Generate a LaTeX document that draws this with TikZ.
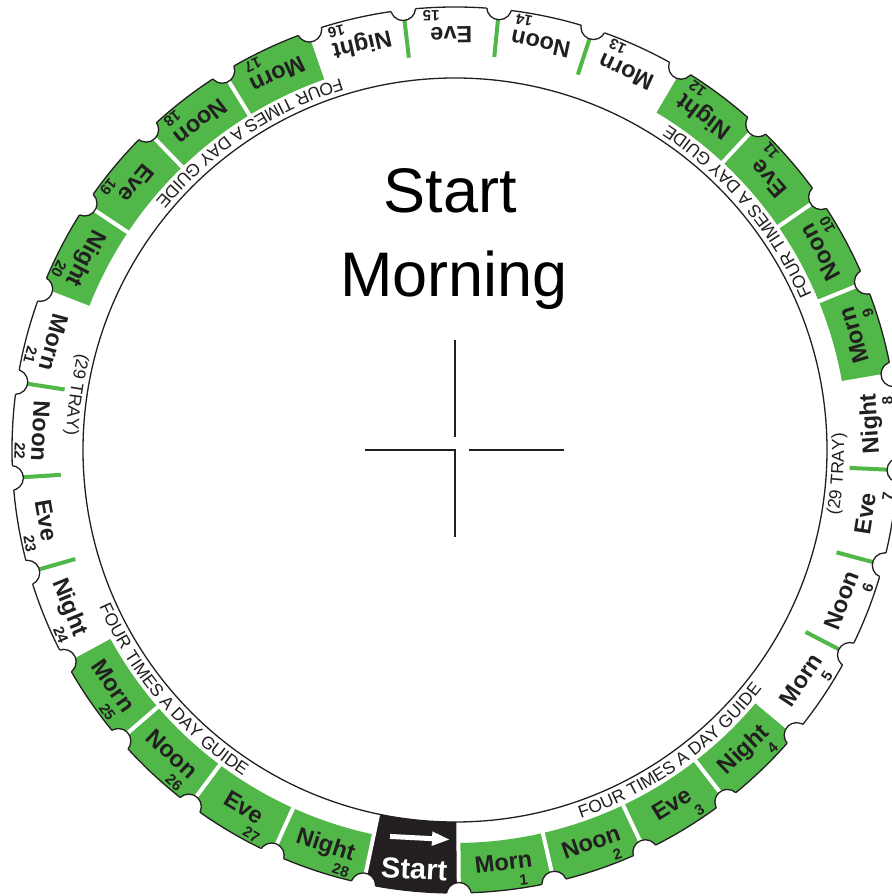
\documentclass[tikz,border=0pt]{standalone}
\usepackage{fontspec}
\setmainfont{Liberation Sans}
\usetikzlibrary{decorations.text,arrows.meta}
\definecolor{pgreen}{RGB}{80,183,72}
\definecolor{ink}{RGB}{35,31,32}
\newcommand{\guidefont}{\fontsize{17.5pt}{20pt}\selectfont}
\begin{document}
\begin{tikzpicture}[
  outline/.style={draw=ink, line width=1.3pt},
  wordlab/.style={font=\fontsize{23.5pt}{26pt}\selectfont\bfseries, text=ink, inner sep=0pt, anchor=base},
  numlab/.style={font=\fontsize{15pt}{17pt}\selectfont\bfseries, text=ink, inner sep=0pt, anchor=base},
  sepline/.style={draw=white, line width=4pt},
  tickline/.style={draw=pgreen, line width=4pt},
  crossline/.style={draw=ink, line width=1.4pt},
  ringtext/.style={decorate, decoration={text along path, text align=center, text color=ink}},
]
\useasboundingbox (-455pt,-446pt) rectangle (436pt,450pt);
\def\seg{12.41379}
\def\base{270.5}
% green sectors
\foreach \k in {1,...,28} {
  \pgfmathtruncatemacro\g{mod(floor((\k-1)/4),2)}
  \ifnum\g=0
    \pgfmathsetmacro\s{\base+\seg*(\k-1)}
    \pgfmathsetmacro\e{\s+\seg}
    \fill[pgreen] (\s:393pt) arc[start angle=\s, end angle=\e, radius=393pt] -- (\e:443pt) arc[start angle=\e, end angle=\s, radius=443pt] -- cycle;
  \fi
}
% start sector
\pgfmathsetmacro\ss{\base-\seg}
\fill[ink] (\ss:372pt) arc[start angle=\ss, end angle=\base, radius=372pt] -- (\base:443pt) arc[start angle=\base, end angle=\ss, radius=443pt] -- cycle;
% separators
\foreach \j in {0,...,28} {
  \pgfmathsetmacro\a{\base+\seg*\j}
  \draw[sepline] (\a:370pt) -- (\a:452pt);
}
% ticks
\foreach \j in {5,6,7,13,14,15,21,22,23} {
  \pgfmathsetmacro\a{\base+\seg*\j}
  \draw[tickline] (\a:395pt) -- (\a:440pt);
}
% outer outline with notches
\draw[outline] (0,0) circle[radius=443pt];
\foreach \j in {0,...,28} {
  \pgfmathsetmacro\a{\base+\seg*\j}
  \fill[white] (\a:445pt) circle[radius=12.5pt];
}
\begin{scope}
\clip (0,0) circle[radius=443pt];
\foreach \j in {0,...,28} {
  \pgfmathsetmacro\a{\base+\seg*\j}
  \draw[outline] (\a:445pt) circle[radius=12.5pt];
}
\end{scope}
% inner circle
\draw[outline] (0,0) circle[radius=372pt];
% crosshair
\draw[crossline] (0pt,110pt) -- (0pt,13pt);
\draw[crossline] (-90pt,0pt) -- (0pt,0pt) -- (0pt,-87pt);
\draw[crossline] (14pt,0pt) -- (109pt,0pt);
% segment labels
\foreach \k in {1,...,28} {
  \pgfmathsetmacro\c{\base+\seg*(\k-0.5)}
  \pgfmathsetmacro\r{\c+90}
  \pgfmathtruncatemacro\m{mod(\k,4)}
  \pgfmathparse{{"Night","Morn","Noon","Eve"}[\m]}\let\w\pgfmathresult
  \pgfmathsetmacro\off{{22,18,21,20}[\m]}
  \node[wordlab, rotate=\r] (w\k) at (\c:423pt) {\w};
  \node[numlab, rotate=\r] (n\k) at ([shift={(\r:\off pt)}]\c:440pt) {\k};
}
% start segment content
\node[font=\fontsize{29pt}{32pt}\selectfont\bfseries, text=white, inner sep=0pt, anchor=base, rotate=-3] (startlab) at (264.5:431pt) {Start};
\coordinate (arrowc) at (264.85:389.6pt);
\draw[white, line width=5pt, -{Triangle[length=18pt, width=13pt]}] ([shift={(177:30pt)}]arrowc) -- ([shift={(357:30pt)}]arrowc);
% center text
\node[font=\fontsize{63pt}{70pt}\selectfont, text=black, anchor=base, inner sep=0pt] (title1) at (-5pt,237pt) {Start};
\node[font=\fontsize{63pt}{70pt}\selectfont, text=black, anchor=base, inner sep=0pt] (title2) at (-1pt,153pt) {Morning};
% ring texts
\foreach \ctr in {305.5,40.1,123.7,220.4} {
  \pgfmathsetmacro\sa{\ctr-25}
  \pgfmathsetmacro\ea{\ctr+25}
  \path[ringtext, decoration={text={|\guidefont|FOUR TIMES A DAY GUIDE}}] (\sa:389pt) arc[start angle=\sa, end angle=\ea, radius=389pt];
}
\foreach \ctr in {171.7,-3.6} {
  \pgfmathsetmacro\sa{\ctr-20}
  \pgfmathsetmacro\ea{\ctr+20}
  \path[ringtext, decoration={text={|\guidefont|(29 TRAY)}}] (\sa:389pt) arc[start angle=\sa, end angle=\ea, radius=389pt];
}
\end{tikzpicture}
\end{document}
